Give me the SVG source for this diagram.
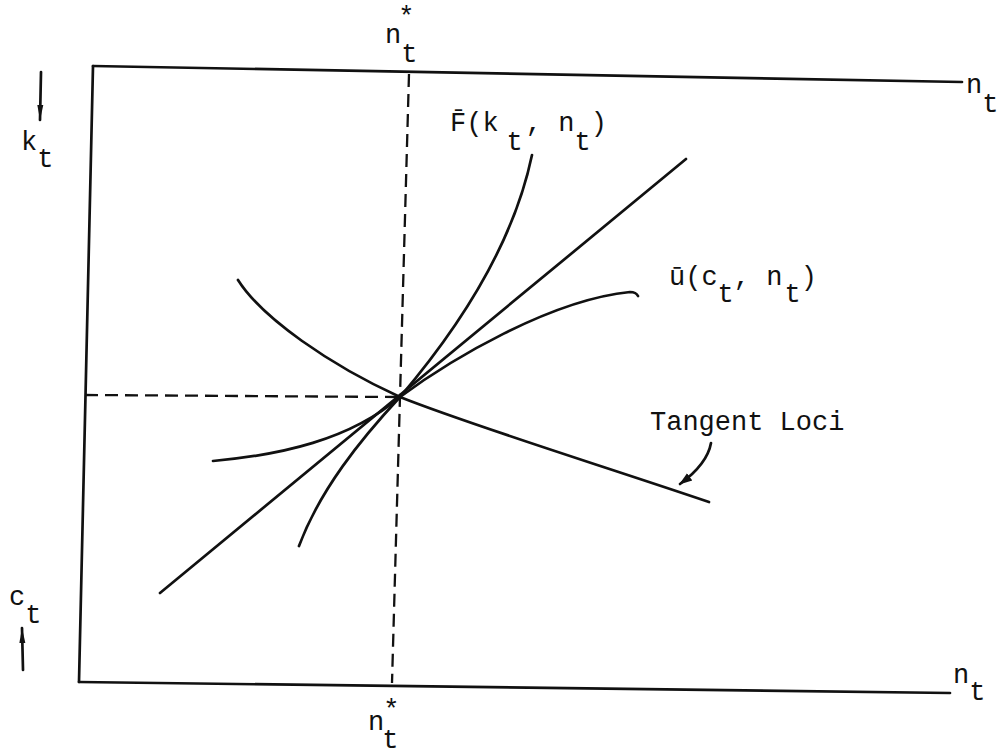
<svg xmlns="http://www.w3.org/2000/svg" width="1000" height="754" viewBox="0 0 1000 754">
<style>
.ln{fill:none;stroke:#111;stroke-width:2.7;stroke-linecap:round;stroke-linejoin:round}
.ds{fill:none;stroke:#111;stroke-width:2.3;stroke-dasharray:13 7}
.tx{font-family:"Liberation Mono","DejaVu Sans Mono",monospace;font-size:27px;fill:#111}
</style>
<defs>
<marker id="ah" markerWidth="14" markerHeight="12" refX="12" refY="6" orient="auto" markerUnits="userSpaceOnUse">
<path d="M0,1.5 L13,6 L0,10.5 Z" fill="#111"/>
</marker>
<marker id="ahn" markerWidth="16" markerHeight="8" refX="15" refY="4" orient="auto" markerUnits="userSpaceOnUse">
<path d="M0,1 L15,4 L0,7 Z" fill="#111"/>
</marker>
</defs>
<rect width="1000" height="754" fill="#fff"/>
<g id="frame">
<path class="ln" d="M93,66 L962,82"/>
<path class="ln" d="M93,66 L79,682"/>
<path class="ln" d="M79,682 L950,693"/>
</g>
<g id="guides">
<path class="ds" d="M409,74 L392,683"/>
<path class="ds" d="M85,395 L398,397"/>
</g>
<g id="curves">
<path id="tangent-loci" class="ln" d="M238,280 C262,318 330,365 400,397 C470,425 600,465 709,502"/>
<path id="ray" class="ln" d="M160,593 L686,159"/>
<path id="F-curve" class="ln" d="M299,546 C320,490 360,440 400,397 C440,350 510,260 532,155"/>
<path id="u-curve" class="ln" d="M213,461 C280,455 350,440 400,397 C450,360 550,300 630,292 Q636,292 638,296"/>
</g>
<g id="connectors">
<path class="ln" d="M711,443 C708,460 695,473 680,484" marker-end="url(#ah)"/>
<path class="ln" d="M41,72 L40,120" marker-end="url(#ahn)"/>
<path class="ln" d="M23,670 L22,628" marker-end="url(#ahn)"/>
</g>
<g id="label-top-nstar">
<text class="tx" x="385" y="43">n<tspan dx="-3" dy="-18">*</tspan><tspan dx="-13.2" dy="37">t</tspan></text>
</g>
<g id="label-top-nt">
<text class="tx" x="966" y="93">n<tspan dy="19">t</tspan></text>
</g>
<g id="label-F">
<text class="tx" x="450" y="131">F̄(k<tspan dx="8" dy="19">t</tspan><tspan dx="3" dy="-19">, n</tspan><tspan dy="19">t</tspan><tspan dy="-19">)</tspan></text>
</g>
<g id="label-u">
<text class="tx" x="669" y="285">ū(c<tspan dy="17">t</tspan><tspan dy="-17">, n</tspan><tspan dx="2" dy="17">t</tspan><tspan dy="-17">)</tspan></text>
</g>
<g id="label-tangent">
<text class="tx" x="650" y="430">Tangent Loci</text>
</g>
<g id="label-k">
<text class="tx" x="21" y="150">k<tspan dy="17">t</tspan></text>
</g>
<g id="label-c">
<text class="tx" x="9" y="605">c<tspan dy="18">t</tspan></text>
</g>
<g id="label-bottom-nstar">
<text class="tx" x="368" y="730">n<tspan dx="-1" dy="-12">*</tspan><tspan dx="-17.2" dy="30">t</tspan></text>
</g>
<g id="label-bottom-nt">
<text class="tx" x="953" y="683">n<tspan dy="17">t</tspan></text>
</g>
</svg>
